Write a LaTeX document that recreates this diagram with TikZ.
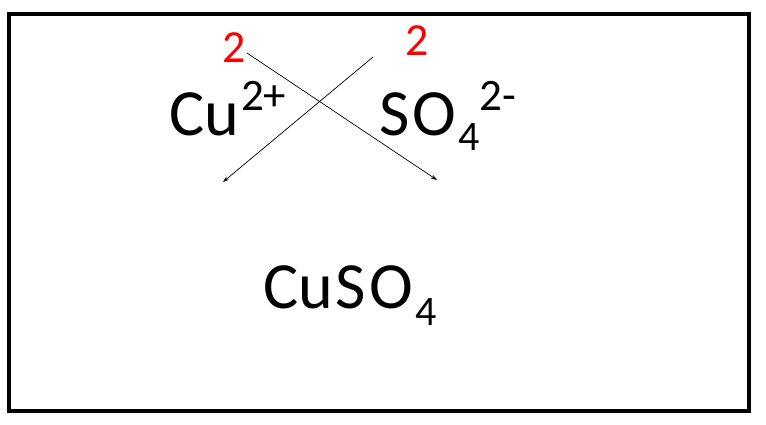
\documentclass[tikz,border=0pt]{standalone}
\usepackage{fontspec}
\setmainfont{Carlito}
\usetikzlibrary{arrows.meta}
\begin{document}
\begin{tikzpicture}[x=1pt,y=-1pt,
  big/.style={anchor=base west,inner sep=0pt,font=\fontsize{66}{66}\selectfont},
  redtwo/.style={anchor=base west,inner sep=0pt,text=red,font=\fontsize{46}{46}\selectfont},
  cross/.style={line width=0.7pt,-{Stealth[length=6pt,width=4pt]}}]
\useasboundingbox (0,0) rectangle (766,424);
\draw[line width=4pt] (8.5,13.5) rectangle (748.5,410.5);
\newcommand{\supr}[2]{\raisebox{#1}{\fontsize{45}{45}\selectfont #2}}
\newcommand{\subr}[2]{\raisebox{#1}{\fontsize{42}{42}\selectfont #2}}
\node[big] (cu) at (169,135) {Cu\hspace{2pt}\supr{25pt}{2+}};
\node[big] (so) at (379,135) {S\hspace{3pt}O\hspace{2pt}\subr{-15pt}{4}\supr{25pt}{2-}};
\node[big] (cuso) at (263,308) {Cu\hspace{2pt}S\hspace{4pt}O\hspace{2pt}\subr{-17pt}{4}};
\node[redtwo] (r1) at (222,62) {2};
\node[redtwo] (r2) at (405,55) {2};
\coordinate (a1s) at (247,53);
\coordinate (a1e) at (437,180);
\coordinate (a2s) at (373,57);
\coordinate (a2e) at (223,182);
\draw[cross] (a1s) -- (a1e);
\draw[cross] (a2s) -- (a2e);
\end{tikzpicture}
\end{document}
